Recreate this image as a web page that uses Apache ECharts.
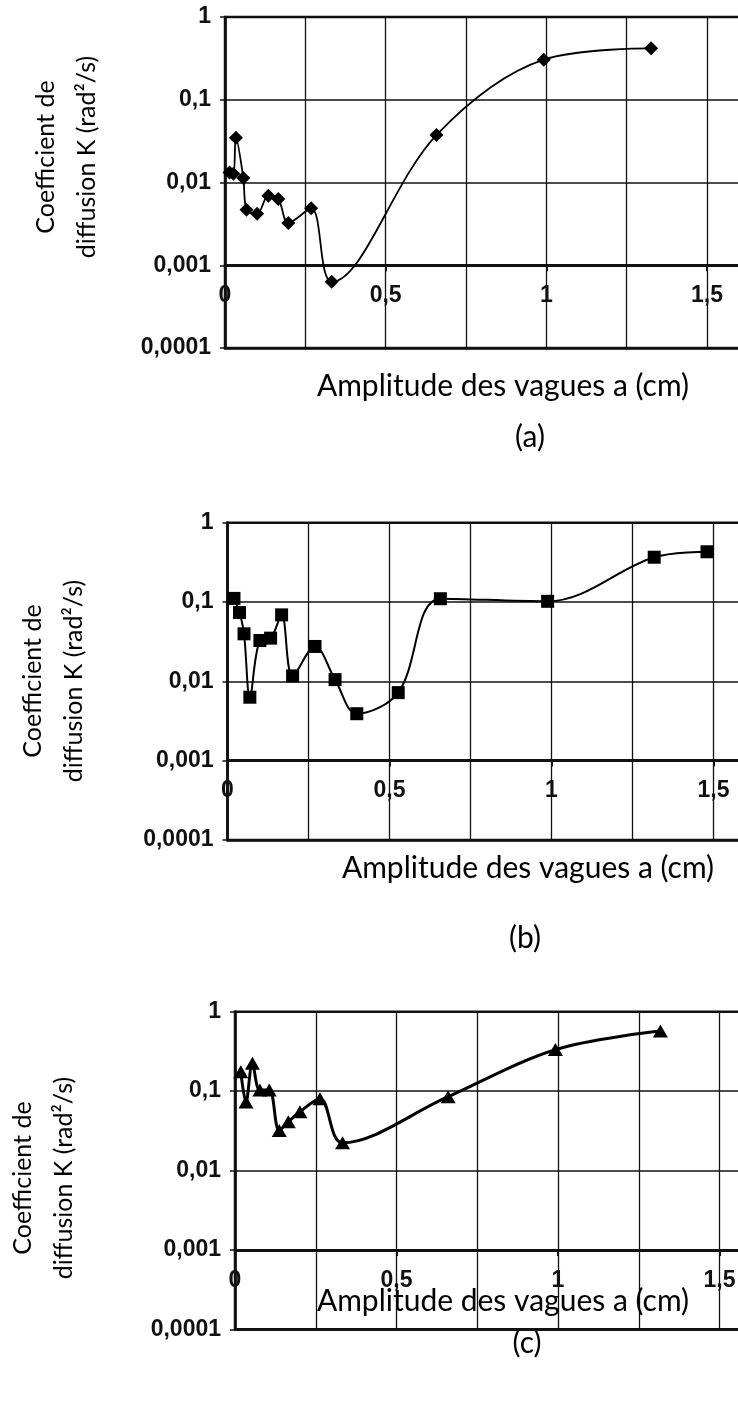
<!DOCTYPE html>
<html>
<head>
<meta charset="utf-8">
<script src="https://cdn.jsdelivr.net/npm/echarts@6/dist/echarts.min.js"></script>
<style>
  html, body { margin: 0; padding: 0; background: #fff; }
  #chart { width: 738px; height: 1410px; }
</style>
</head>
<body>
<div id="chart"></div>
<script>
// Panel (a) – diamonds
const ampA = [0.014, 0.026, 0.034, 0.057, 0.067, 0.100, 0.135, 0.166, 0.197, 0.268, 0.332, 0.658, 0.992, 1.326];
const kA   = [0.0132, 0.0128, 0.0347, 0.0113, 0.0047, 0.0042, 0.0069, 0.0063, 0.00325, 0.0049, 0.00063, 0.0374, 0.305, 0.418];

// Panel (b) – squares
const ampB = [0.020, 0.037, 0.051, 0.069, 0.100, 0.133, 0.167, 0.201, 0.270, 0.332, 0.399, 0.527, 0.657, 0.988, 1.317, 1.480];
const kB   = [0.111, 0.0736, 0.0397, 0.0063, 0.0327, 0.035, 0.0688, 0.0117, 0.0275, 0.0105, 0.0039, 0.0072, 0.110, 0.102, 0.367, 0.43];

// Panel (c) – triangles
const ampC = [0.018, 0.034, 0.054, 0.077, 0.106, 0.137, 0.165, 0.201, 0.263, 0.333, 0.660, 0.992, 1.317];
const kC   = [0.175, 0.073, 0.224, 0.103, 0.103, 0.032, 0.041, 0.055, 0.080, 0.0223, 0.085, 0.333, 0.57];

// Axis tick labels (French decimal comma)
const yTickValues = [0.0001, 0.001, 0.01, 0.1, 1];
const yTickLabels = ['0,0001', '0,001', '0,01', '0,1', '1'];
const xTickValues = [0, 0.5, 1, 1.5];
const xTickLabels = ['0', '0,5', '1', '1,5'];

const yTitle = 'Coefficient de\ndiffusion K (rad\u00B2/s)';
const xTitle = 'Amplitude des vagues a (cm)';
const panelTags = ['(a)', '(b)', '(c)'];

// Layout of the three stacked plots (pixels)
const layout = [
  { left: 225,   top: 17,     unit: 321.3, decade: 82.75, symbol: 'diamond',  size: 14,       lw: 1.8,
    yT: [66, 157],  xT: [503, 386],  tag: [530, 437] },
  { left: 227.5, top: 522.7,  unit: 324,   decade: 79.3,  symbol: 'rect',     size: 13,       lw: 2,
    yT: [53, 681],  xT: [528, 868],  tag: [525, 938] },
  { left: 235,   top: 1011.7, unit: 323,   decade: 79.4,  symbol: 'triangle', size: [15, 13], lw: 3,
    yT: [43, 1178], xT: [503, 1301], tag: [527, 1343] }
];

const series = [[ampA, kA], [ampB, kB], [ampC, kC]];
const XMAX = 1.75;
const ink = '#111';

function yLabel(v) {
  for (let i = 0; i < yTickValues.length; i++) {
    if (Math.abs(Math.log10(v) - Math.log10(yTickValues[i])) < 1e-6) return yTickLabels[i];
  }
  return '';
}
function xLabel(v) {
  for (let i = 0; i < xTickValues.length; i++) {
    if (Math.abs(v - xTickValues[i]) < 1e-6) return xTickLabels[i];
  }
  return '';
}

const grids = [], xAxes = [], yAxes = [], seriesOpts = [], graphics = [];
layout.forEach((p, i) => {
  // plot frame runs past the right edge of the page
  grids.push({
    left: p.left, top: p.top, width: XMAX * p.unit, height: 4 * p.decade,
    outerBoundsMode: 'none', containLabel: false,
    show: true, borderColor: ink, borderWidth: 2.5, backgroundColor: 'transparent'
  });
  // vertical grid lines + bottom frame (at 0,0001)
  xAxes.push({
    type: 'value', gridIndex: i, min: 0, max: XMAX, interval: 0.25, position: 'bottom',
    axisLine: { show: true, lineStyle: { color: ink, width: 2.5 } },
    axisTick: { show: false }, axisLabel: { show: false },
    splitLine: { show: true, lineStyle: { color: ink, width: 1.3 } }
  });
  // labelled amplitude axis crossing at K = 0,001
  xAxes.push({
    type: 'value', gridIndex: i, min: 0, max: XMAX, interval: 0.5, position: 'bottom',
    offset: -p.decade,
    axisLine: { show: true, lineStyle: { color: ink, width: 3 } },
    axisTick: { show: true, length: 6, lineStyle: { color: ink, width: 2 } },
    axisLabel: {
      formatter: xLabel, fontFamily: 'Liberation Sans', fontWeight: 'bold',
      fontSize: 23, color: ink, margin: 19
    },
    splitLine: { show: false }
  });
  yAxes.push({
    type: 'log', logBase: 10, gridIndex: i, min: 0.0001, max: 1,
    axisLine: { show: true, lineStyle: { color: ink, width: 2.7 } },
    axisTick: { show: true, length: 5, lineStyle: { color: ink, width: 1.5 } },
    axisLabel: {
      formatter: yLabel, fontFamily: 'Liberation Sans', fontWeight: 'bold',
      fontSize: 23, color: ink, margin: 14
    },
    splitLine: { show: true, lineStyle: { color: ink, width: 1.7 } },
    minorTick: { show: false }, minorSplitLine: { show: false }
  });
  const [xs, ks] = series[i];
  seriesOpts.push({
    type: 'line', xAxisIndex: 2 * i, yAxisIndex: i,
    data: xs.map((x, j) => [x, ks[j]]),
    smooth: 0.35,
    symbol: p.symbol, symbolSize: p.size,
    showAllSymbol: true,
    lineStyle: { color: '#000', width: p.lw },
    itemStyle: { color: '#000' },
    emphasis: { disabled: true },
    z: 5
  });
  graphics.push({
    type: 'text', x: p.yT[0], y: p.yT[1], rotation: Math.PI / 2, z: 100,
    style: {
      text: yTitle, fontFamily: 'Lato', fontSize: 25, lineHeight: 41,
      fill: '#000', align: 'center', verticalAlign: 'middle'
    }
  });
  graphics.push({
    type: 'text', x: p.xT[0], y: p.xT[1], z: 100,
    style: {
      text: xTitle, fontFamily: 'Lato', fontSize: 30,
      fill: '#000', align: 'center', verticalAlign: 'middle'
    }
  });
  graphics.push({
    type: 'text', x: p.tag[0], y: p.tag[1], z: 100,
    style: {
      text: panelTags[i], fontFamily: 'Lato', fontSize: 30,
      fill: '#000', align: 'center', verticalAlign: 'middle'
    }
  });
});

const chart = echarts.init(document.getElementById('chart'), null, { renderer: 'canvas' });
chart.setOption({
  backgroundColor: '#fff',
  animation: false,
  grid: grids,
  xAxis: xAxes,
  yAxis: yAxes,
  series: seriesOpts,
  graphic: graphics
});
</script>
</body>
</html>
